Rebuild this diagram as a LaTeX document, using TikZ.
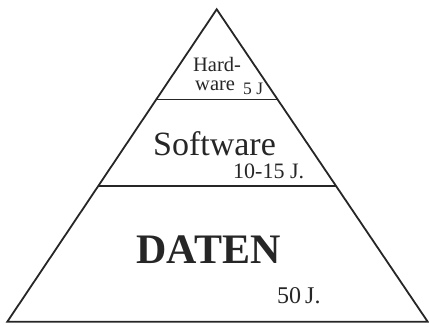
\documentclass[tikz,border=0pt]{standalone}
\usepackage{fontspec}
\setmainfont{Liberation Serif}
\begin{document}
\begin{tikzpicture}[x=1pt,y=-1pt,
  edge/.style={line width=1.8pt,black!85},
  lbl/.style={inner sep=0pt,anchor=base,text=black!85}]
\useasboundingbox (0,0) rectangle (429,327);
\coordinate (apex) at (216.7,9.3);
\coordinate (bl) at (7.3,321.7);
\coordinate (br) at (427.7,321.7);
\draw[edge,line join=miter] (apex) -- (bl) -- (br) -- cycle;
\path (apex) -- (bl) coordinate[pos=0.2886] (l1) coordinate[pos=0.5657] (l2);
\path (apex) -- (br) coordinate[pos=0.2886] (r1) coordinate[pos=0.5657] (r2);
\draw[edge] (l1) -- (r1);
\draw[edge] (l2) -- (r2);
\node[lbl,font=\fontsize{20.5}{20}\selectfont] (hard) at (217,71.5) {Hard-};
\node[lbl,font=\fontsize{20.5}{20}\selectfont,anchor=base west] (ware) at (195,90) {ware};
\node[lbl,font=\fontsize{17.5}{17}\selectfont,anchor=base west] (hy) at (243,94.5) {5 J};
\node[lbl,font=\fontsize{34}{34}\selectfont] (soft) at (214.5,155) {Software};
\node[lbl,font=\fontsize{22}{22}\selectfont,anchor=base west] (sy) at (233,178) {10-15 J.};
\node[lbl,font=\bfseries\fontsize{42}{42}\selectfont] (daten) at (208.5,263) {DATEN};
\node[lbl,font=\fontsize{24}{24}\selectfont,anchor=base west] (dy) at (277,303) {50\,J.};
\end{tikzpicture}
\end{document}
